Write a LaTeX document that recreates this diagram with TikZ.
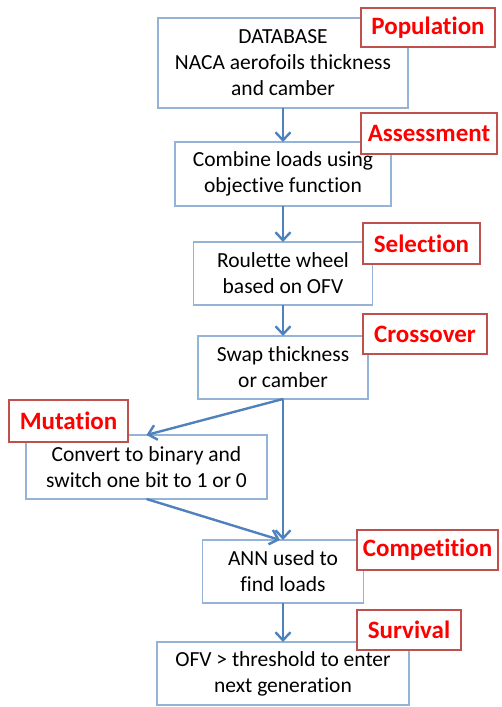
\documentclass[tikz,border=0pt]{standalone}
\usepackage{fontspec}
\setmainfont{Carlito}[Ligatures=NoCommon]
\usepackage{tikz}
\usetikzlibrary{positioning}
\usetikzlibrary{arrows.meta}

\definecolor{boxline}{RGB}{149,179,215}
\definecolor{arrowblue}{RGB}{79,129,189}
\definecolor{tagline}{RGB}{192,80,77}

\begin{document}
\begin{tikzpicture}[x=1pt, y=1pt,
        stepnode/.style={rectangle, draw=boxline, line width=1.3pt, fill=white, text=black, align=center, inner sep=2pt, outer sep=0pt, font=\fontsize{21.5}{26}\selectfont},
        tagnode/.style={rectangle, draw=tagline, line width=2.5pt, fill=white, text=red, inner sep=2pt, font=\fontsize{25}{28}\selectfont\bfseries},
        -{Straight Barb[length=8pt,width=15pt]}, line width=2.4pt, draw=arrowblue]
        \useasboundingbox (0,0) rectangle (501,707);

        \node[stepnode, minimum width=250pt, minimum height=90pt]    (database)    at (283,644) {DATABASE\\NACA aerofoils thickness\\and camber};
        \node[stepnode, minimum width=216pt, minimum height=64pt]    (combine)     [below=34pt of database] {Combine loads using\\objective function};
        \node[stepnode, minimum width=179pt, minimum height=63pt]    (roulette)    [below=36pt of combine] {Roulette wheel\\based on OFV};
        \node[stepnode, minimum width=170pt, minimum height=63pt]    (swap)        [below=31pt of roulette] {Swap thickness\\or camber};
        \node[stepnode, minimum width=241pt, minimum height=64pt]    (convert)     at (146.5,240) {Convert to binary and\\switch one bit to 1 or 0};
        \node[stepnode, minimum width=161pt, minimum height=63pt]    (ann)         [below=141pt of swap] {ANN used to\\find loads};
        \node[stepnode, minimum width=252pt, minimum height=63pt]    (ofv)         [below=39pt of ann] {OFV > threshold to enter\\next generation};

        \node[tagnode, minimum width=134pt, minimum height=39pt]    (population)  at (428,679.5) {Population};
        \node[tagnode, minimum width=136pt, minimum height=41pt]    (assessment)  at (429,573.5) {Assessment};
        \node[tagnode, minimum width=117pt, minimum height=41pt]    (selection)   at (421.5,463.5) {Selection};
        \node[tagnode, minimum width=124pt, minimum height=40pt]    (crossover)   at (425,373) {Crossover};
        \node[tagnode, minimum width=119pt, minimum height=42pt]    (mutation)    at (68.5,286) {Mutation};
        \node[tagnode, minimum width=141pt, minimum height=40pt]    (competition) at (427.5,157) {Competition};
        \node[tagnode, minimum width=104pt, minimum height=40pt]    (survival)    at (409,77) {Survival};

        \path(database)edge(combine);
        \path(combine)edge(roulette);
        \path(roulette)edge(swap);
        \path(swap.south)edge(convert.north);
        \path(swap.south)edge(ann.north);
        \path(convert.south)edge([xshift=-3pt]ann.north);
        \path(ann)edge(ofv);

    \end{tikzpicture}
\end{document}
